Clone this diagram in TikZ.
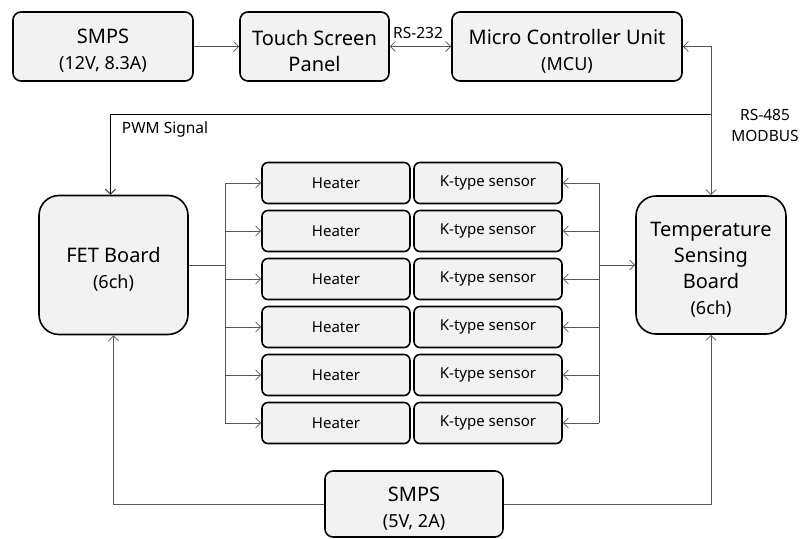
\documentclass[tikz,border=0pt]{standalone}
\usepackage{fontspec}
\setmainfont{Noto Sans}
\usetikzlibrary{arrows.meta}
\definecolor{boxfill}{HTML}{F2F2F2}
\definecolor{lnk}{HTML}{555555}
\newcommand\subtxt{\fontsize{18}{20}\selectfont}
\begin{document}
\begin{tikzpicture}[x=1pt,y=-1pt,
  box/.style={draw=black,line width=1.6pt,fill=boxfill,rounded corners=8pt,align=center,inner sep=0pt},
  big/.style={font=\fontsize{20}{26}\selectfont},
  bt/.style={label={[big,align=center,inner sep=0pt,yshift=-4.5pt]center:#1}},
  cell/.style={box,rounded corners=6pt,minimum width=148pt,minimum height=41pt,font=\fontsize{15}{18}\selectfont},
  lnkline/.style={draw=lnk,line width=0.8pt},
  arr/.style={lnkline,-{Straight Barb[length=5pt,width=10pt]}},
  darr/.style={lnkline,{Straight Barb[length=5pt,width=10pt]}-{Straight Barb[length=5pt,width=10pt]}},
  lbl/.style={font=\fontsize{15.5}{21}\selectfont,inner sep=0pt,align=center}]
\useasboundingbox (0,0) rectangle (800,538);

\node[box,minimum width=180pt,minimum height=69pt,
  bt={SMPS\\{\subtxt (12V, 8.3A)}}] (smpsA) at (103,46.5) {};
\node[box,minimum width=149pt,minimum height=69pt,
  bt={Touch Screen\\Panel}] (tsp) at (314.5,46.5) {};
\node[box,minimum width=230pt,minimum height=69pt,
  bt={Micro Controller Unit\\{\subtxt (MCU)}}] (mcu) at (567,46.5) {};

\node[box,rounded corners=20pt,minimum width=149pt,minimum height=139pt,
  bt={FET Board\\{\subtxt (6ch)}}] (fet) at (113.5,265) {};
\node[box,rounded corners=20pt,minimum width=150pt,minimum height=138pt,
  bt={Temperature\\Sensing\\Board\\{\subtxt (6ch)}}] (temp) at (711,265) {};

\node[box,minimum width=178pt,minimum height=66pt,
  bt={SMPS\\{\subtxt (5V, 2A)}}] (smpsB) at (414,504) {};

\foreach \i/\y in {1/183,2/231,3/279,4/327,5/375,6/423}{
  \node[cell] (h\i) at (336,\y) {Heater};
  \node[cell] (s\i) at (488,\y) {K-type sensor};
  \coordinate (hb\i) at (225,\y);
  \coordinate (sb\i) at (599,\y);
  \draw[arr] (hb\i) -- (h\i.west);
  \draw[arr] (sb\i) -- (s\i.east);
}
\coordinate (hbm) at (225,265);
\coordinate (sbm) at (599,265);
\draw[lnkline] (hb1) -- (hb6);
\draw[lnkline] (sb1) -- (sb6);
\draw[lnkline] (fet.east) -- (hbm);
\draw[arr] (sbm) -- (temp.west);

\draw[arr] (smpsA.east) -- (tsp.west);
\draw[darr] (tsp.east) -- (mcu.west);
\draw[darr] (mcu.east) -| (temp.north);
\coordinate (pwm) at (711,114);
\draw[arr,draw=black] (pwm) -| ([xshift=-3pt]fet.north);
\draw[arr] (smpsB.west) -| (fet.south);
\draw[arr] (smpsB.east) -| (temp.south);

\node[lbl] (l232) at (418,33) {RS-232};
\node[lbl] (l485) at (765,125) {RS-485\\MODBUS};
\node[lbl] (lpwm) at (165,129) {PWM Signal};
\end{tikzpicture}
\end{document}
